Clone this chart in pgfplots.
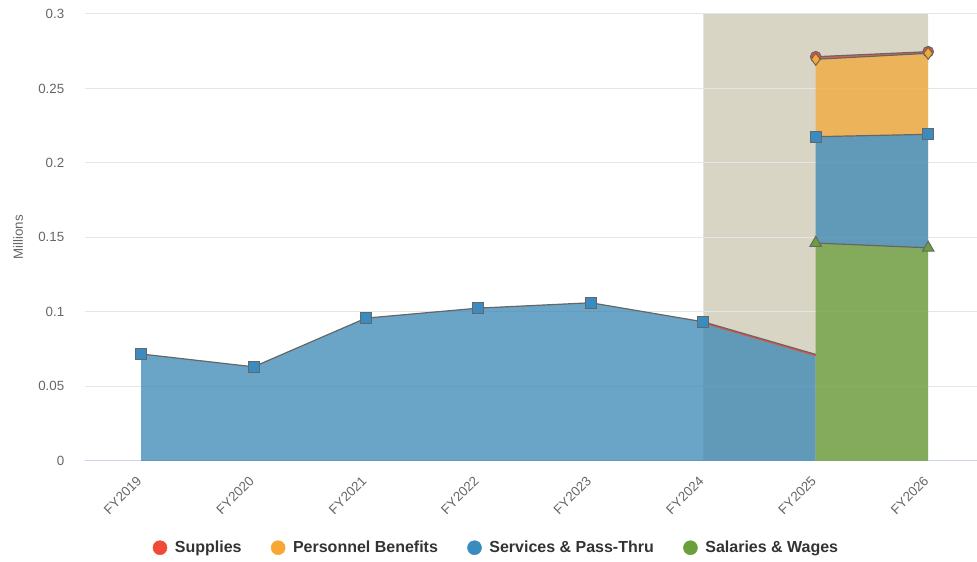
\documentclass[border=0pt]{standalone}
\usepackage{fontspec}
\setmainfont{Liberation Sans}
\usepackage{pgfplots}
\pgfplotsset{compat=1.18}
\definecolor{bandc}{HTML}{D8D5C5}
\definecolor{servc}{HTML}{3887B4}
\definecolor{servm}{HTML}{3A8BBF}
\definecolor{salc}{HTML}{689C39}
\definecolor{salm}{HTML}{69A03A}
\definecolor{perc}{HTML}{F3A837}
\definecolor{perm}{HTML}{F7A833}
\definecolor{supc}{HTML}{EF4B36}
\definecolor{linec}{HTML}{666666}
\definecolor{gridc}{HTML}{E6E6E6}
\definecolor{axisc}{HTML}{CCD6EB}
\definecolor{tickc}{HTML}{666666}
\definecolor{legc}{HTML}{333333}

\begin{document}
\begin{tikzpicture}
\begin{axis}[
  set layers,
  at={(0,0)}, anchor=south west,
  scale only axis, width=669pt, height=335.25pt,
  xmin=-0.5, xmax=7.43, ymin=0, ymax=0.3,
  xtick={0,1,2,3,4,5,6,7},
  xticklabels={FY2019,FY2020,FY2021,FY2022,FY2023,FY2024,FY2025,FY2026},
  ytick={0,0.05,0.1,0.15,0.2,0.25,0.3},
  yticklabels={0,0.05,0.1,0.15,0.2,0.25,0.3},
  ymajorgrids, major grid style={color=gridc, line width=0.75pt},
  axis x line*=bottom, axis y line*=left,
  x axis line style={draw=axisc, line width=0.75pt, -},
  y axis line style={draw=none},
  tick style={draw=none},
  xticklabel style={yshift=-11pt, xshift=1pt, rotate=45, anchor=east, text=tickc, font=\fontsize{10}{12}\selectfont},
  yticklabel style={xshift=-12pt, text=tickc, font=\fontsize{10}{12}\selectfont},
  ylabel={Millions},
  every axis y label/.style={at={(axis description cs:-0.0751,0.5)}, rotate=90, anchor=center, text=tickc, font=\fontsize{10}{12}\selectfont},
  legend style={at={(0.4619,-0.1946)}, anchor=center, draw=none, fill=none,
    font=\fontsize{12}{14}\selectfont\bfseries, text=legc, legend columns=4,
    /tikz/every even column/.append style={column sep=20pt}},
  legend cell align=left,
]
% plot band
\addplot[fill=bandc, draw=none, forget plot, on layer=axis background] coordinates {(5,0) (5,0.3) (7,0.3) (7,0) (5,0)};

% areas
\addplot[fill=servc, fill opacity=0.75, draw=none, forget plot] coordinates {
  (0,0) (0,0.0717) (1,0.0631) (2,0.0958) (3,0.1025) (4,0.1061) (5,0.0933) (6,0.0714) (6,0) (0,0)};
\addplot[fill=salc, fill opacity=0.75, draw=none, forget plot] coordinates {(6,0) (6,0.1462) (7,0.1430) (7,0) (6,0)};
\addplot[fill=servc, fill opacity=0.75, draw=none, forget plot] coordinates {(6,0.1462) (7,0.1430) (7,0.2192) (6,0.2176) (6,0.1462)};
\addplot[fill=perc, fill opacity=0.75, draw=none, forget plot] coordinates {(6,0.2176) (7,0.2192) (7,0.2736) (6,0.2696) (6,0.2176)};
\addplot[fill=supc, fill opacity=0.85, draw=none, forget plot] coordinates {(6,0.2696) (7,0.2736) (7,0.2747) (6,0.2713) (6,0.2696)};

% lines
\addplot[supc, line width=0.9pt, forget plot] coordinates {(5,0.0926) (6,0.0706)};
\addplot[linec, line width=0.9pt, forget plot] coordinates {
  (0,0.0717) (1,0.0631) (2,0.0958) (3,0.1025) (4,0.1061) (5,0.0933) (6,0.0714)};
\addplot[linec, line width=0.9pt, forget plot] coordinates {(6,0.1462) (7,0.1430)};
\addplot[linec, line width=0.9pt, forget plot] coordinates {(6,0.2176) (7,0.2192)};
\addplot[linec, line width=0.9pt, forget plot] coordinates {(6,0.2696) (7,0.2736)};
\addplot[linec, line width=0.9pt, forget plot] coordinates {(6,0.2713) (7,0.2747)};

% markers
\addplot[only marks, mark=*, mark size=4pt, mark options={draw=linec, fill=supc, line width=0.75pt}, forget plot]
  coordinates {(6,0.2713) (7,0.2747)};
\addplot[only marks, mark=diamond*, mark size=4.5pt, mark options={draw=linec, fill=perm, line width=0.75pt}, forget plot]
  coordinates {(6,0.2696) (7,0.2736)};
\addplot[only marks, mark=square*, mark size=4.1pt, mark options={draw=linec, fill=servm, line width=0.75pt}, forget plot]
  coordinates {(0,0.0717) (1,0.0631) (2,0.0958) (3,0.1025) (4,0.1061) (5,0.0933) (6,0.2176) (7,0.2192)};
\addplot[only marks, mark=triangle*, mark size=5pt, mark options={draw=linec, fill=salm, line width=0.75pt}, forget plot]
  coordinates {(6,0.1462) (7,0.1430)};

% legend
\addlegendimage{legend image code/.code={\fill[supc] (0,0) circle (5.25pt); \path (9pt,0);}}
\addlegendentry{Supplies}
\addlegendimage{legend image code/.code={\fill[perm] (0,0) circle (5.25pt); \path (9pt,0);}}
\addlegendentry{Personnel Benefits}
\addlegendimage{legend image code/.code={\fill[servm] (0,0) circle (5.25pt); \path (9pt,0);}}
\addlegendentry{Services \& Pass-Thru}
\addlegendimage{legend image code/.code={\fill[salm] (0,0) circle (5.25pt); \path (9pt,0);}}
\addlegendentry{Salaries \& Wages}
\end{axis}
\path (-63.75pt,-75.75pt) rectangle (669pt,345.75pt);
\end{tikzpicture}
\end{document}
